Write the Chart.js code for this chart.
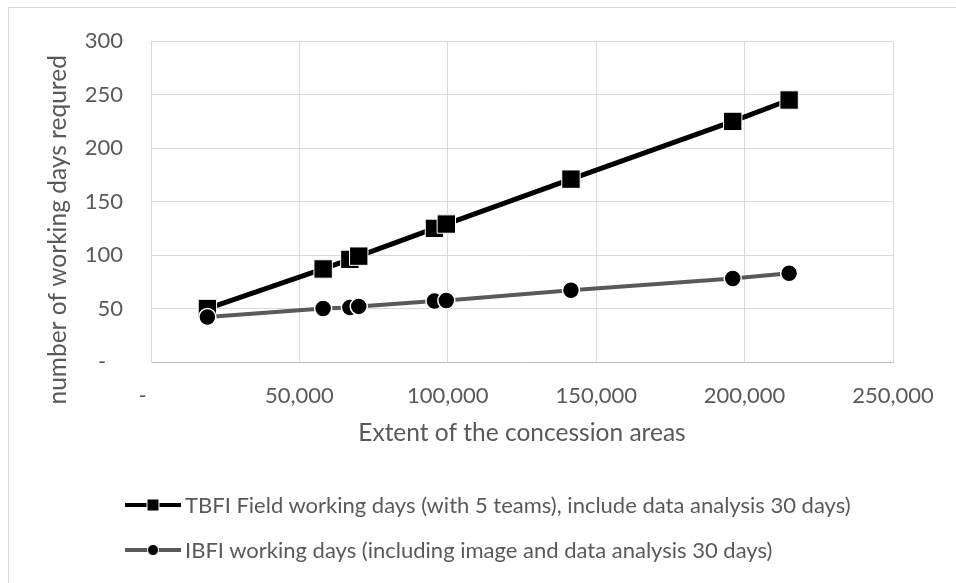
<!DOCTYPE html>
<html>
<head>
<meta charset="utf-8">
<script src="https://cdn.jsdelivr.net/npm/chart.js@4.4.1/dist/chart.umd.min.js"></script>
<style>
  html, body { margin: 0; padding: 0; background: #fff; }
  #wrap { position: relative; width: 956px; height: 583px; overflow: hidden; }
  #frame { position: absolute; left: 8px; top: 7px; width: 1000px; height: 1000px;
           border-left: 1px solid #d9d9d9; border-top: 1px solid #d9d9d9; }
  #chart { position: absolute; left: 0; top: 0; }
  #legend { position: absolute; left: 125px; top: 482px; font-family: Lato, sans-serif;
            font-size: 22px; color: #595959; }
  .item { display: flex; align-items: center; height: 45px; white-space: nowrap; }
  .item canvas { margin-right: 4px; }
</style>
</head>
<body>
<div id="wrap">
  <div id="frame"></div>
  <canvas id="chart" width="956" height="583"></canvas>
  <div id="legend"></div>
</div>
<script>
// extent of the concession areas (x) and days required per method
var extent   = [19000, 58000, 67000, 70000, 95500, 99500, 141500, 196000, 215000];
var tbfiDays = [50, 87, 96, 99, 125, 129, 171, 225, 245];
var ibfiDays = [42, 50, 51, 52, 57, 57.5, 67, 78, 83];

var seriesNames = [
    "TBFI Field working days (with 5 teams), include data analysis 30 days)",
    "IBFI working days (including image and data analysis 30 days)"
];
var xTitle = "Extent of the concession areas";
var yTitle = "number of working days requred";

var textColor = "#595959";
var gridColor = "#d9d9d9";

function toPoints(xs, ys){
    var pts = [];
    for (var i = 0; i < xs.length; i++) pts.push({x: xs[i], y: ys[i]});
    return pts;
}

function fmt(v){
    return v === 0 ? "-   " : v.toLocaleString("en-US");
}

var ctx = document.getElementById("chart").getContext("2d");
var chart = new Chart(ctx, {
    type: "scatter",
    data: {
        datasets: [{
            label: seriesNames[0],
            data: toPoints(extent, tbfiDays),
            showLine: true,
            borderColor: "#000000",
            borderWidth: 5,
            backgroundColor: "#000000",
            pointStyle: "rect",
            pointRadius: 13,
            pointBorderColor: "#ffffff",
            pointBorderWidth: 1,
            order: 2
        }, {
            label: seriesNames[1],
            data: toPoints(extent, ibfiDays),
            showLine: true,
            borderColor: "#595959",
            borderWidth: 4,
            backgroundColor: "#000000",
            pointStyle: "circle",
            pointRadius: 8.5,
            pointBorderColor: "#ffffff",
            pointBorderWidth: 1.5,
            order: 1
        }]
    },
    options: {
        responsive: false,
        animation: false,
        layout: { padding: { left: 0, top: 37, right: 63, bottom: 131 } },
        plugins: { legend: { display: false }, tooltip: { enabled: false } },
        scales: {
            x: {
                type: "linear",
                min: 0, max: 250000,
                ticks: { stepSize: 50000, color: textColor, padding: 21,
                         font: { family: "Lato", size: 22 }, callback: fmt, maxRotation: 0 },
                grid: { color: gridColor, drawTicks: false },
                border: { color: "#bfbfbf" },
                title: { display: true, text: xTitle, color: textColor,
                         font: { family: "Lato", size: 24.5 }, padding: { top: 0, bottom: 4 } },
                afterFit: function(s){ s.height = 90; }
            },
            y: {
                min: 0, max: 300,
                ticks: { stepSize: 50, color: textColor, padding: 28,
                         font: { family: "Lato", size: 22 }, callback: fmt },
                grid: { color: gridColor, drawTicks: false },
                border: { color: gridColor },
                title: { display: true, text: yTitle + "         ", color: textColor,
                         font: { family: "Lato", size: 24.5 }, padding: { top: 43, bottom: 0 } },
                afterFit: function(s){ s.width = 151; }
            }
        }
    }
});

// legend: one row per series, line with marker then label
var legend = document.getElementById("legend");
chart.data.datasets.forEach(function(ds){
    var row = document.createElement("div");
    row.className = "item";
    var c = document.createElement("canvas");
    c.width = 56; c.height = 20;
    var g = c.getContext("2d");
    g.strokeStyle = ds.borderColor;
    g.lineWidth = 4;
    g.beginPath(); g.moveTo(0, 10); g.lineTo(56, 10); g.stroke();
    g.fillStyle = "#000000";
    g.strokeStyle = "#ffffff";
    g.lineWidth = 1;
    g.beginPath();
    if (ds.pointStyle === "rect") g.rect(22, 4, 12, 12);
    else g.arc(28, 10, 5.5, 0, Math.PI * 2);
    g.fill(); g.stroke();
    row.appendChild(c);
    var span = document.createElement("span");
    span.textContent = ds.label;
    row.appendChild(span);
    legend.appendChild(row);
});
</script>
</body>
</html>
